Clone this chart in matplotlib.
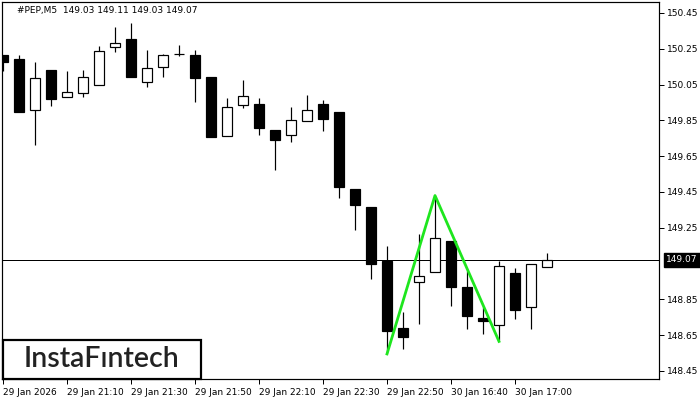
import numpy as np
import matplotlib
matplotlib.use('Agg')
import matplotlib.pyplot as plt
from matplotlib.patches import Rectangle

# candle data (M5)
opens = [150.215, 150.19, 149.91, 150.13, 149.98, 150.00, 150.05, 150.26, 150.305, 150.065,
         150.15, 150.22, 150.215, 150.09, 149.76, 149.935, 149.94, 149.795, 149.77, 149.845,
         149.94, 149.895, 149.465, 149.365, 149.065, 148.69, 148.945, 149.00, 149.175, 148.92,
         148.745, 148.705, 148.995, 148.805, 149.03]
highs = [150.215, 150.215, 150.175, 150.13, 150.125, 150.13, 150.265, 150.37, 150.395, 150.245,
         150.22, 150.27, 150.245, 150.09, 149.975, 150.075, 149.975, 149.795, 149.925, 149.99,
         149.965, 149.895, 149.465, 149.365, 149.15, 148.78, 149.215, 149.43, 149.175, 149.01,
         148.805, 149.065, 149.025, 149.05, 149.11]
lows = [150.127, 149.895, 149.71, 149.93, 149.98, 149.98, 150.05, 150.23, 150.09, 150.035,
        150.09, 150.21, 149.95, 149.755, 149.76, 149.92, 149.77, 149.57, 149.73, 149.845,
        149.79, 149.415, 149.235, 148.965, 148.55, 148.575, 148.715, 149.00, 148.815, 148.685,
        148.655, 148.625, 148.74, 148.685, 149.03]
closes = [150.178, 149.895, 150.085, 149.97, 150.01, 150.09, 150.24, 150.28, 150.09, 150.14,
          150.215, 150.22, 150.085, 149.755, 149.925, 149.985, 149.805, 149.74, 149.85, 149.91,
          149.86, 149.48, 149.375, 149.045, 148.675, 148.64, 148.98, 149.195, 148.92, 148.755,
          148.73, 149.035, 148.79, 149.045, 149.07]

xlabels = ['29 Jan 2026', '29 Jan 21:10', '29 Jan 21:30', '29 Jan 21:50', '29 Jan 22:10',
           '29 Jan 22:30', '29 Jan 22:50', '30 Jan 16:40', '30 Jan 17:00']
xlabel_pos = [0, 4, 8, 12, 16, 20, 24, 28, 32]
yticks = [150.45, 150.25, 150.05, 149.85, 149.65, 149.45, 149.25, 148.85, 148.65, 148.45]

# double bottom pattern
pat_idx = [24, 27, 31]
pat_price = [148.545, 149.43, 148.615]

last_price = 149.07

o = np.array(opens)
h = np.array(highs)
l = np.array(lows)
c = np.array(closes)
idx = np.arange(len(o))
up = c >= o

px = 0.72  # one pixel in points at dpi 100

fig = plt.figure(figsize=(7, 4), dpi=100)
ax = fig.add_axes([2 / 700, 21 / 400, 657 / 700, 377 / 400])

# wicks
ax.vlines(idx, l, h, color='black', linewidth=px * 1.2, zorder=2)
# bodies
body_lo = np.minimum(o, c)
body_h = np.abs(c - o)
ax.bar(idx[up], body_h[up], bottom=body_lo[up], width=0.64, color='white',
       edgecolor='black', linewidth=px * 1.2, zorder=3)
ax.bar(idx[~up], body_h[~up], bottom=body_lo[~up], width=0.64, color='black',
       edgecolor='black', linewidth=px * 1.2, zorder=3)

# last price line
ax.axhline(last_price, color='black', linewidth=px, zorder=1)

# pattern
ax.plot(pat_idx, pat_price, color='#1ee61e', linewidth=2.0, zorder=4)

ax.set_xlim(-0.0625, 41.0)
ax.set_ylim(148.405, 150.511)

ax.yaxis.tick_right()
ax.set_yticks(yticks)
ax.set_yticklabels(['%.2f' % v for v in yticks])
ax.set_xticks(xlabel_pos)
ax.set_xticklabels(xlabels, ha='left')
ax.tick_params(axis='both', direction='out', length=3.5, width=px, labelsize=6.5,
               colors='black', pad=2)
ax.tick_params(axis='x', pad=3)
for sp in ax.spines.values():
    sp.set_linewidth(px * 1.2)

# price tag on the right
ax.annotate('%.2f' % last_price, xy=(1.0, last_price), xycoords=('axes fraction', 'data'),
            xytext=(5, 0), textcoords='offset points', va='center', ha='left',
            fontsize=6.5, color='white', annotation_clip=False,
            bbox=dict(boxstyle='square,pad=0.25', fc='black', ec='black'))

# header
ax.text(15 / 657, 0.978, '#PEP,M5  %.2f %.2f %.2f %.2f' % (o[-1], h[-1], l[-1], c[-1]),
        transform=ax.transAxes, fontsize=6.5, va='center', ha='left')

# logo box
fig.add_artist(Rectangle((3 / 700, 21 / 400), 198 / 700, 39 / 400, transform=fig.transFigure,
                         fc='white', ec='black', lw=2 * px * 1.1, zorder=6))
fig.text(101.5 / 700, 41 / 400, 'InstaF\u0131ntech', fontsize=20.5, family='Lato',
         weight='semibold', color='#222222', va='center', ha='center', zorder=7)

fig.savefig('out.png', dpi=100)
